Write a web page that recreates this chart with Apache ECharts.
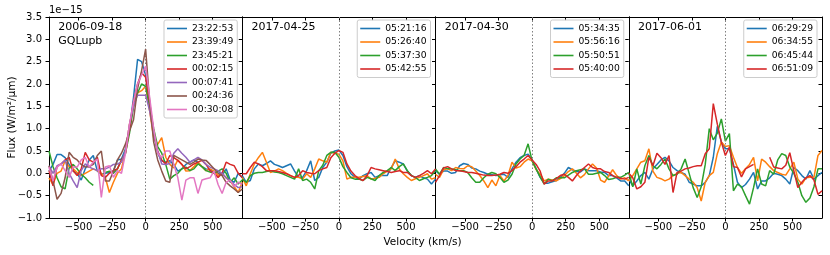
<!DOCTYPE html>
<html><head><meta charset="utf-8">
<script src="https://cdn.jsdelivr.net/npm/echarts@6/dist/echarts.min.js"></script>
<style>html,body{margin:0;padding:0;background:#fff}#c{width:830px;height:255px}</style>
</head><body><div id="c"></div>
<script>
// ---------- data ----------
const velocity = [-720,-690,-660,-630,-600,-570,-540,-510,-480,-450,-420,-390,-360,-330,-300,-270,-240,-210,-180,-150,-120,-90,-60,-30,0,30,60,90,120,150,180,210,240,270,300,330,360,390,420,450,480,510,540,570,600,630,660,690,720];
const xTicks = [-500, -250, 0, 250, 500];
const yMin = -1.0, yMax = 3.5, yStep = 0.5;
const yExponentLabel = '1e\u221215';
const panelTitles = ['2006-09-18\nGQLupb', '2017-04-25', '2017-04-30', '2017-06-01'];
const xAxisTitle = 'Velocity (km/s)';
const yAxisTitle = 'Flux (W/m\u00b2/\u03bcm)';

const times1 = ['23:22:53','23:39:49','23:45:21','00:02:15','00:07:41','00:24:36','00:30:08'];
const times2 = ['05:21:16','05:26:40','05:37:30','05:42:55'];
const times3 = ['05:34:35','05:56:16','05:50:51','05:40:00'];
const times4 = ['06:29:29','06:34:55','06:45:44','06:51:09'];

// panel 1 : 2006-09-18 GQLupb
const p1_232253 = [0.05,0.2,0.42,0.42,0.35,0.2,0.05, 0.0,-0.15,0.1,0.3,0.4,0.05,-0.02, 0.0,0.02,0.05,0.3,0.32,0.55,1.0, 1.7,2.55,2.5,2.2,1.5,0.9,0.45, 0.28,0.25,0.28,0.2,0.05,0.1,0.2, 0.25,0.3,0.25,0.15,0.1,0.08,0.0, 0.05,-0.05,0.1,-0.15,-0.2,0.0,-0.1];
const p1_233949 = [-0.1,-0.25,0.0,0.05,0.28,0.15,0.1, 0.02,-0.05,0.0,0.05,0.1,0.06,0.0, -0.1,-0.43,-0.2,0.0,0.1,0.5,1.1, 1.5,1.8,1.85,1.95,1.4,0.8,0.65, 0.8,0.36,0.2,0.12,0.3,0.2,0.05, 0.06,0.15,0.25,0.15,0.06,0.1,0.05, -0.05,0.0,-0.1,-0.17,-0.3,-0.43,-0.2];
const p1_234521 = [0.5,0.15,-0.1,-0.3,-0.35,0.12,0.2, 0.1,-0.02,-0.1,-0.2,-0.27,null,null, 0.02,0.05,0.0,0.1,0.3,0.45,0.9, 1.5,1.8,2.0,1.95,1.5,1.0,0.6, 0.45,0.2,-0.13,-0.05,0.0,0.1,0.14, 0.06,0.1,0.21,0.15,0.06,0.03,0.0, 0.05,0.1,0.0,-0.2,-0.1,-0.24,-0.15];
const p1_000215 = [0.06,-0.28,0.15,0.21,0.3,0.36,0.06, -0.05,0.1,0.47,0.3,0.25,0.36,-0.05, -0.09,0.0,0.06,0.1,0.3,0.45,1.0, 1.6,2.0,2.25,2.15,1.6,0.9,0.5, 0.3,0.21,0.4,0.35,0.29,0.2,0.1, 0.15,0.21,0.25,0.29,0.2,0.06,0.0, -0.09,0.0,0.25,0.2,0.17,0.0,-0.09];
const p1_000741 = [0.17,0.0,0.17,0.21,0.29,0.0,-0.17, -0.32,0.06,0.21,0.14,0.1,0.06,0.1, 0.1,0.14,0.2,0.21,0.25,0.5,1.1, 1.5,1.75,1.75,1.75,1.4,0.9,0.5, 0.21,0.2,0.22,0.45,0.55,0.45,0.36, 0.25,0.3,0.36,0.3,0.2,0.14,0.1, 0.06,0.0,-0.1,-0.17,-0.25,-0.32,-0.3];
const p1_002436 = [0.17,-0.17,-0.58,-0.45,-0.1,0.47,0.36, 0.3,0.2,0.14,0.15,0.2,0.4,0.5, -0.17,-0.17,0.05,0.3,0.45,0.66,0.95, 1.2,1.9,2.3,2.78,1.6,0.7,0.3, 0.05,-0.17,-0.2,0.4,0.35,0.3,0.25, 0.2,0.25,0.32,0.3,0.29,0.2,0.1, 0.0,-0.05,-0.2,-0.28,-0.35,-0.43,-0.35];
const p1_003008 = [0.14,-0.17,0.14,0.21,0.06,-0.09,0.14, 0.14,0.3,0.36,0.14,0.25,0.32,-0.54, 0.14,0.17,-0.09,0.06,0.0,0.45,1.1, 1.6,2.0,2.2,2.4,1.7,1.0,0.45, 0.35,0.5,0.5,0.2,-0.1,-0.6,-0.15, -0.1,-0.1,-0.45,-0.15,-0.12,-0.1,0.05, -0.25,-0.45,-0.2,-0.15,-0.3,-0.2,-0.25];

// panel 2 : 2017-04-25
const p2_052116 = [-0.05,-0.2,-0.16,0.1,0.21,0.17,0.22, 0.28,0.2,0.17,0.13,0.17,0.21,0.05, -0.09,-0.09,0.06,0.28,-0.16,-0.09,0.13, 0.25,0.45,0.5,0.52,0.4,0.15,-0.01, -0.09,-0.13,-0.05,-0.01,0.02,-0.09,-0.05, -0.05,-0.05,0.13,0.28,0.25,0.21,0.05, -0.05,-0.09,-0.05,-0.1,-0.13,-0.24,-0.13];
const p2_052640 = [-0.09,-0.28,-0.01,0.21,0.35,0.47,0.25, 0.02,0.05,0.1,0.06,0.0,-0.05,-0.09, -0.09,-0.13,-0.01,-0.09,0.1,0.32,0.28, 0.25,0.47,0.45,0.43,0.28,-0.13,-0.09, -0.09,-0.09,-0.07,-0.05,-0.13,-0.11,-0.09, -0.01,0.05,0.1,0.32,0.1,-0.01,-0.09, -0.16,-0.12,-0.09,-0.05,-0.01,-0.13,-0.1];
const p2_053730 = [-0.13,-0.2,-0.05,0.0,0.02,0.02,0.04, 0.06,0.03,0.02,-0.01,-0.05,-0.09,-0.13, 0.1,-0.16,-0.13,-0.2,-0.35,0.06,0.18, 0.4,0.47,0.47,0.36,0.15,0.02,-0.1, -0.13,-0.13,-0.16,-0.09,-0.12,-0.16,-0.05, 0.02,0.06,0.13,0.06,0.15,0.21,0.06, -0.05,-0.09,-0.16,-0.12,-0.09,-0.05,0.06];
const p2_054255 = [-0.01,-0.01,0.13,0.25,0.21,0.15,0.06, 0.06,0.06,0.04,0.02,-0.01,-0.05,-0.09, -0.05,0.06,0.02,0.0,-0.01,0.06,0.1, 0.13,0.35,0.45,0.51,0.47,0.21,0.05, -0.05,-0.12,-0.16,-0.05,0.13,0.1,0.08, 0.06,0.04,0.02,0.04,0.06,0.02,0.02, -0.05,-0.09,-0.05,0.0,0.06,-0.01,0.1];

// panel 3 : 2017-04-30
const p3_053435 = [0.06,-0.02,0.05,0.05,0.0,0.02,0.17, 0.22,0.2,0.12,0.1,0.05,0.02,-0.02, -0.03,-0.05,-0.03,-0.02,-0.09,0.1,0.25, 0.35,0.4,0.43,0.3,0.1,-0.09,-0.22, -0.22,-0.19,-0.16,-0.09,0.0,0.13,0.08, 0.04,0.03,0.1,0.06,0.06,0.06,0.03, 0.02,-0.05,-0.05,-0.1,-0.17,-0.17,-0.28];
const p3_055616 = [-0.02,-0.09,0.08,0.1,0.06,0.13,0.11, 0.1,0.17,0.15,0.05,-0.05,-0.17,-0.32, -0.15,-0.28,-0.05,-0.17,-0.05,0.25,0.12, 0.15,0.25,0.32,0.28,0.08,-0.02,-0.17, -0.13,-0.15,-0.17,-0.12,-0.05,0.04,0.1, 0.0,-0.1,-0.03,0.1,0.21,0.12,-0.15, -0.2,-0.06,0.08,-0.05,-0.13,-0.1,-0.17];
const p3_055051 = [0.1,-0.02,0.13,0.11,0.1,0.08,0.06, 0.06,0.02,-0.1,-0.2,-0.2,-0.1,-0.02, 0.02,-0.01,-0.09,-0.2,-0.15,-0.02,0.21, 0.32,0.4,0.66,0.28,0.1,-0.08,-0.24, -0.13,-0.17,-0.1,-0.1,-0.1,-0.04,0.02, 0.06,0.08,0.1,-0.02,-0.02,0.0,0.02, -0.05,-0.14,-0.12,-0.09,-0.09,-0.04,0.02];
const p3_054000 = [-0.2,-0.05,0.12,0.15,0.1,0.06,0.06, 0.04,0.02,0.02,0.0,-0.02,-0.04,-0.05, -0.05,-0.04,-0.02,0.02,0.0,0.06,0.15, 0.25,0.32,0.4,0.3,0.2,0.05,-0.24, -0.17,-0.17,-0.12,-0.05,-0.02,-0.09,-0.17, -0.05,0.05,0.13,0.21,0.13,0.1,0.1, 0.04,0.02,-0.05,-0.09,-0.11,-0.13,-0.09];

// panel 4 : 2017-06-01
const p4_062929 = [-0.13,-0.28,-0.17,-0.05,0.02,-0.13,0.1, 0.2,0.3,0.36,0.28,0.13,0.06,0.02, -0.02,-0.2,-0.24,-0.28,-0.28,-0.2,-0.05, 0.36,1.05,0.7,0.55,0.55,0.2,-0.2, -0.32,-0.25,-0.13,0.02,-0.35,-0.17,-0.17, -0.1,0.0,-0.02,-0.05,-0.13,-0.24,0.13, 0.06,-0.05,-0.13,0.06,-0.13,-0.05,0.02];
const p4_063455 = [-0.17,-0.05,0.1,0.25,0.28,0.55,0.05, -0.09,-0.12,-0.17,-0.13,-0.05,0.0,0.02, -0.05,-0.13,-0.2,-0.32,-0.62,-0.2,-0.05, 0.02,0.44,0.7,0.6,0.62,0.36,0.13, 0.0,0.1,0.2,0.36,-0.17,0.32,0.25, 0.15,0.06,0.02,-0.02,-0.04,0.1,0.25, -0.13,-0.24,-0.1,-0.09,-0.09,0.4,0.51];
const p4_064544 = [0.02,-0.3,0.1,-0.24,0.17,0.4,0.17, 0.1,0.2,0.32,0.1,-0.05,-0.02,0.1, 0.32,0.0,-0.32,-0.54,-0.3,0.2,1.0, 0.75,0.9,1.22,0.72,0.89,-0.39,-0.24, -0.3,-0.5,-0.69,-0.32,0.1,-0.24,-0.28, 0.06,-0.02,0.3,0.44,0.4,0.14,0.0, -0.2,-0.5,-0.65,-0.55,-0.3,0.1,0.1];
const p4_065109 = [0.0,-0.1,-0.35,-0.3,-0.2,0.36,0.17, 0.45,0.35,0.2,0.4,-0.43,0.02,0.05, 0.1,0.12,0.15,0.17,0.17,0.44,0.55, 1.56,1.1,0.7,0.4,0.59,0.15,0.13, -0.08,0.1,0.15,0.2,null,null,null, 0.36,0.14,0.12,0.1,0.18,0.46,0.06, -0.32,-0.2,-0.1,-0.05,-0.15,-0.47,-0.39];

const colors = ['#1f77b4','#ff7f0e','#2ca02c','#d62728','#9467bd','#8c564b','#e377c2'];

const panels = [
  {names: times1, flux: [p1_232253,p1_233949,p1_234521,p1_000215,p1_000741,p1_002436,p1_003008]},
  {names: times2, flux: [p2_052116,p2_052640,p2_053730,p2_054255]},
  {names: times3, flux: [p3_053435,p3_055616,p3_055051,p3_054000]},
  {names: times4, flux: [p4_062929,p4_063455,p4_064544,p4_065109]}
];

// ---------- layout ----------
const FONT = '"DejaVu Sans", sans-serif';
const L = 49, W = 193.25, T = 17, H = 201;
const minus = s => String(s).replace('-', '\u2212');

const grids = [], xAxes = [], yAxes = [], series = [], legends = [], graphics = [];

panels.forEach((p, i) => {
  const left = L + i * W;
  grids.push({left: left, top: T, width: W, height: H, containLabel: false});
  xAxes.push({
    type: 'value', gridIndex: i, position: 'bottom', min: -720, max: 720,
    axisLine: {show: true, onZero: false, lineStyle: {color: '#000', width: 1}},
    axisTick: {show: true, inside: false, length: 3.5, customValues: xTicks, lineStyle: {color: '#000'}},
    axisLabel: {show: true, customValues: xTicks, margin: 4, color: '#000', fontSize: 10, fontFamily: FONT,
      formatter: v => minus(v)},
    splitLine: {show: false}
  });
  xAxes.push({
    type: 'value', gridIndex: i, position: 'top', min: -720, max: 720,
    axisLine: {show: true, onZero: false, lineStyle: {color: '#000', width: 1}},
    axisTick: {show: true, inside: true, length: 3.5, customValues: xTicks, lineStyle: {color: '#000'}},
    axisLabel: {show: false}, splitLine: {show: false}
  });
  yAxes.push({
    type: 'value', gridIndex: i, position: 'left', min: yMin, max: yMax, interval: yStep,
    axisLine: {show: true, onZero: false, lineStyle: {color: '#000', width: 1}},
    axisTick: {show: i === 0, inside: false, length: 3.5, lineStyle: {color: '#000'}},
    axisLabel: {show: i === 0, margin: 7, color: '#000', fontSize: 10, fontFamily: FONT,
      formatter: v => minus(v.toFixed(1))},
    splitLine: {show: false}
  });
  yAxes.push({
    type: 'value', gridIndex: i, position: 'right', min: yMin, max: yMax, interval: yStep,
    axisLine: {show: true, onZero: false, lineStyle: {color: '#000', width: 1}},
    axisTick: {show: true, inside: true, length: 3.5, lineStyle: {color: '#000'}},
    axisLabel: {show: false}, splitLine: {show: false}
  });

  p.names.forEach((name, k) => {
    const s = {
      type: 'line', name: name, xAxisIndex: 2 * i, yAxisIndex: 2 * i,
      data: velocity.map((v, j) => [v, p.flux[k][j] == null ? '-' : p.flux[k][j]]),
      showSymbol: false, symbol: 'none', connectNulls: false, clip: true,
      lineStyle: {width: 1.5, color: colors[k]}, itemStyle: {color: colors[k]},
      emphasis: {disabled: true}, z: 2 + k
    };
    if (k === 0) {
      s.markLine = {
        silent: true, symbol: ['none', 'none'], label: {show: false},
        lineStyle: {color: '#808080', type: [1.5, 2], width: 1},
        data: [{xAxis: 0}], animation: false
      };
    }
    series.push(s);
  });

  legends.push({
    data: p.names, orient: 'vertical',
    right: 830 - (left + W - 5), top: 20,
    icon: 'rect', itemWidth: 20, itemHeight: 1.6, itemGap: 2.5, itemTextGap: 7,
    padding: [3, 4, 3, 3],
    backgroundColor: 'rgba(255,255,255,0.8)', borderColor: '#cccccc', borderWidth: 1, borderRadius: 2,
    textStyle: {color: '#000', fontSize: 9.2, fontFamily: FONT, lineHeight: 11},
    selectedMode: false
  });

  graphics.push({
    type: 'text', x: left + 9.3, y: 20.2, silent: true,
    style: {text: panelTitles[i], fill: '#000', font: '11px ' + FONT, fontSize: 11, fontFamily: FONT,
      lineHeight: 13.7, align: 'left', textAlign: 'left', verticalAlign: 'top', textVerticalAlign: 'top'}
  });
});

graphics.push({
  type: 'text', x: 49, y: 10, silent: true,
  style: {text: yExponentLabel, fill: '#000', font: '10px ' + FONT, align: 'left', textAlign: 'left',
    verticalAlign: 'middle', textVerticalAlign: 'middle'}
});
graphics.push({
  type: 'text', x: 12.5, y: 117.5, rotation: Math.PI / 2, silent: true,
  style: {text: yAxisTitle, fill: '#000', font: '10.5px ' + FONT, align: 'center', textAlign: 'center',
    verticalAlign: 'middle', textVerticalAlign: 'middle'}
});
graphics.push({
  type: 'text', x: 422.5, y: 242.3, silent: true,
  style: {text: xAxisTitle, fill: '#000', font: '10.5px ' + FONT, align: 'center', textAlign: 'center',
    verticalAlign: 'middle', textVerticalAlign: 'middle'}
});

const chart = echarts.init(document.getElementById('c'), null, {renderer: 'canvas'});
chart.setOption({
  animation: false,
  backgroundColor: '#fff',
  grid: grids, xAxis: xAxes, yAxis: yAxes, series: series, legend: legends,
  graphic: graphics
});
</script></body></html>
